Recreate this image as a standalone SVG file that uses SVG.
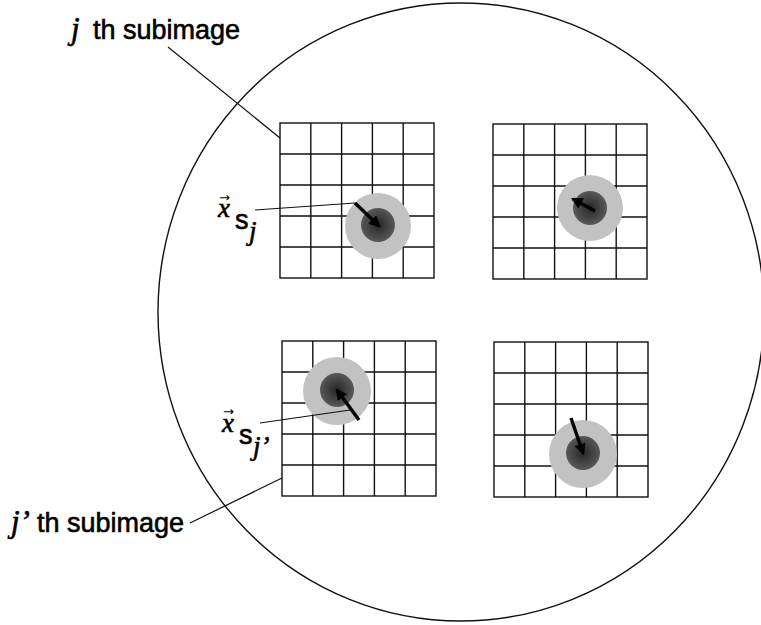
<svg xmlns="http://www.w3.org/2000/svg" width="761" height="625" viewBox="0 0 761 625">
  <style>
    .grid{fill:none;stroke:#111;stroke-width:1.4}
    .outline{fill:none;stroke:#111;stroke-width:1.4}
    .leader{fill:none;stroke:#111;stroke-width:1.2}
    .halo{fill:#c2c2c2}
    .core{fill:url(#coreGrad)}
    .vec{stroke:#000;stroke-width:3.4;fill:none;marker-end:url(#head)}
    .lbl{font-family:"Liberation Sans",Arial,sans-serif;font-size:27px;fill:#000;stroke:#000;stroke-width:0.6}
    .ital{font-family:"Liberation Serif","Times New Roman",serif;font-style:italic}
    .acc{font-family:"DejaVu Sans",sans-serif;font-size:13px;fill:#000}
  </style>
  <defs>
    <radialGradient id="coreGrad">
      <stop offset="0" stop-color="#262626"/>
      <stop offset="1" stop-color="#585858"/>
    </radialGradient>
    <marker id="head" viewBox="0 0 10 10" refX="8" refY="5" markerWidth="3.6" markerHeight="3.4" orient="auto" markerUnits="strokeWidth">
      <path d="M0,0 L10,5 L0,10 z" fill="#000"/>
    </marker>
    <!-- 5 x 5 detector grid -->
    <g id="grid5" class="grid">
      <rect x="0" y="0" width="154" height="155"/>
      <path d="M30.8,0V155M61.6,0V155M92.4,0V155M123.2,0V155M0,31H154M0,62H154M0,93H154M0,124H154"/>
    </g>
  </defs>

  <!-- pupil outline -->
  <ellipse class="outline" cx="461" cy="312" rx="303" ry="309"/>

  <!-- subimage j (top left) -->
  <g id="subimage-j">
    <use href="#grid5" x="280" y="123"/>
    <circle class="halo" cx="378" cy="226" r="33"/>
    <circle class="core" cx="378" cy="225" r="17"/>
    <line class="vec" x1="355" y1="203" x2="379" y2="226"/>
  </g>

  <!-- subimage top right -->
  <g id="subimage-tr">
    <use href="#grid5" x="493" y="124"/>
    <circle class="halo" cx="590" cy="208" r="33"/>
    <circle class="core" cx="590" cy="208" r="17"/>
    <line class="vec" x1="595" y1="211" x2="573" y2="199"/>
  </g>

  <!-- subimage j' (bottom left) -->
  <g id="subimage-jprime">
    <use href="#grid5" x="282" y="341"/>
    <circle class="halo" cx="337" cy="391" r="34"/>
    <circle class="core" cx="337" cy="390" r="17"/>
    <line class="vec" x1="359" y1="420" x2="337" y2="390"/>
  </g>

  <!-- subimage bottom right -->
  <g id="subimage-br">
    <use href="#grid5" x="494" y="342"/>
    <circle class="halo" cx="583" cy="454" r="34"/>
    <circle class="core" cx="583" cy="453" r="17"/>
    <line class="vec" x1="571" y1="418" x2="583" y2="453"/>
  </g>

  <!-- leader lines -->
  <g id="connectors" class="leader">
    <line x1="168" y1="47" x2="280" y2="138"/>
    <line x1="190" y1="523" x2="282" y2="478"/>
    <line x1="255" y1="210" x2="355" y2="203"/>
    <line x1="260" y1="423" x2="350" y2="410"/>
  </g>

  <!-- labels -->
  <g id="label-j">
    <text class="lbl" y="39"><tspan class="ital" x="71" font-size="31">j</tspan><tspan x="93">th subimage</tspan></text>
  </g>
  <g id="label-jprime">
    <text class="lbl" y="532"><tspan class="ital" x="11" font-size="31">j’</tspan><tspan x="37">th subimage</tspan></text>
  </g>
  <g id="label-xsj">
    <text class="acc" x="219" y="202">→</text>
    <text class="lbl ital" x="218" y="217" font-size="29">x</text>
    <text class="lbl" x="235" y="229" font-size="24">s</text>
    <text class="lbl ital" x="249" y="240" font-size="27">j</text>
  </g>
  <g id="label-xsjprime">
    <text class="acc" x="223" y="416">→</text>
    <text class="lbl ital" x="222" y="432" font-size="29">x</text>
    <text class="lbl" x="239" y="444" font-size="24">s</text>
    <text class="lbl ital" x="253" y="455" font-size="27">j’</text>
  </g>
</svg>
